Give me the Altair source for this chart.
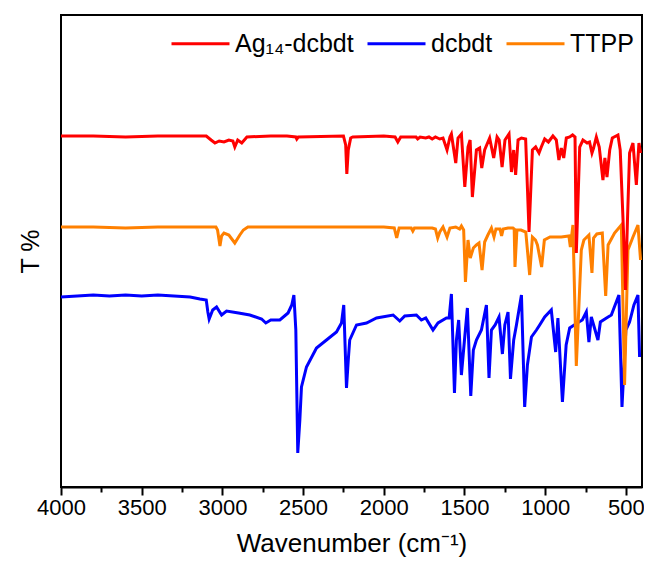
import altair as alt
import pandas as pd

# ---- data (wavenumber in cm-1, transmittance in arbitrary offset units) ----
red_wn = [4000, 3800, 3600, 3400, 3200, 3100, 3070, 3046, 3020, 2990, 2960, 2935, 2923, 2905, 2880, 2848,
          2700, 2600, 2545, 2539, 2530, 2250, 2236, 2229, 2220, 2205, 2192, 2000, 1930, 1913, 1895, 1800,
          1790, 1775, 1740, 1720, 1700, 1680, 1653, 1633, 1608, 1590, 1581, 1554, 1540, 1519, 1498, 1478,
          1465, 1451, 1426, 1406, 1393, 1375, 1344, 1319, 1298, 1285, 1267, 1249, 1224, 1209, 1195, 1183,
          1168, 1147, 1121, 1100, 1079, 1059, 1038, 1024, 1003, 980, 952, 931, 915, 900, 885, 869, 848,
          830, 815, 807, 786, 766, 740, 725, 710, 700, 683, 665, 642, 630, 617, 600, 584, 549, 535, 515,
          502, 490, 477, 456, 435, 419, 409]
red_t = [351, 351, 350, 351, 351, 351, 347, 344, 346, 345, 347, 346, 340, 347, 344, 350,
         351, 351, 350, 348, 350, 351, 342, 313, 337, 349, 350, 351, 350, 345, 350, 350,
         348, 350, 349, 350, 348, 350, 348, 349, 337, 350, 353, 324, 349, 353, 300, 340,
         347, 290, 337, 339, 319, 337, 349, 329, 350, 347, 320, 347, 353, 315, 337, 312,
         347, 349, 348, 255, 337, 340, 334, 340, 348, 345, 351, 347, 327, 339, 329, 349, 350,
         352, 350, 234, 340, 347, 344, 345, 334, 339, 350, 340, 307, 329, 310, 337, 349, 352, 337, 257,
         197, 267, 334, 344, 302, 344, 334]

orange_wn = [4000, 3800, 3600, 3400, 3200, 3040, 3030, 3015, 3005, 2990, 2960, 2923, 2892, 2870, 2842,
             2500, 2000, 1935, 1920, 1905, 1830, 1820, 1810, 1700, 1680, 1666, 1653, 1633, 1608, 1590,
             1554, 1530, 1519, 1505, 1494, 1478, 1464, 1445, 1426, 1410, 1391, 1375, 1355, 1333, 1317,
             1305, 1280, 1270, 1260, 1230, 1200, 1192, 1187, 1175, 1150, 1120, 1096, 1079, 1060, 1048,
             1022, 1005, 970, 900, 853, 844, 828, 807, 776, 760, 729, 710, 700, 680, 646, 625, 610, 570,
             528, 508, 487, 456, 425, 409]
orange_t = [260, 260, 259, 260, 260, 260, 257, 241, 251, 254, 252, 244, 252, 257, 260,
            260, 260, 259, 249, 259, 259, 256, 259, 259, 258, 249, 255, 260, 250, 259,
            260, 258, 261, 257, 205, 247, 229, 239, 242, 244, 217, 245, 252, 259, 250,
            258, 258, 251, 258, 259, 259, 258, 220, 257, 257, 255, 212, 250, 247, 242,
            220, 247, 250, 250, 251, 240, 262, 121, 237, 247, 252, 214, 249, 253, 254, 191, 242, 254,
            262, 102, 237, 250, 262, 227]

blue_wn = [4000, 3900, 3800, 3700, 3600, 3500, 3400, 3300, 3200, 3139, 3100, 3090, 3082, 3060, 3036,
           3005, 2974, 2900, 2830, 2757, 2731, 2700, 2644, 2593, 2570, 2557, 2545, 2533, 2520, 2510,
           2479, 2417, 2355, 2293, 2262, 2248, 2231, 2220, 2211, 2169, 2107, 2045, 1942, 1901, 1870,
           1798, 1767, 1740, 1695, 1664, 1612, 1595, 1581, 1562, 1550, 1536, 1519, 1500, 1482, 1461,
           1445, 1426, 1395, 1364, 1348, 1333, 1310, 1286, 1265, 1250, 1230, 1215, 1195, 1178, 1147,
           1127, 1110, 1085, 1054, 1034, 1003, 962, 935, 921, 893, 870, 848, 791, 770, 745, 729, 714,
           673, 658, 620, 590, 543, 524, 500, 477, 450, 425, 415]
blue_t = [190, 191, 192, 191, 192, 191, 192, 191, 190, 188, 187, 175, 168, 177, 180,
          172, 176, 174, 172, 168, 164, 167, 167, 174, 182, 192, 157, 34, 67, 100,
          120, 139, 147, 155, 164, 182, 99, 127, 147, 162, 164, 169, 172, 166, 171,
          172, 167, 169, 157, 164, 169, 169, 193, 94, 147, 167, 112, 147, 179, 91,
          137, 147, 157, 182, 109, 157, 162, 170, 133, 162, 175, 108, 147, 162, 192,
          80, 122, 150, 157, 162, 170, 177, 135, 169, 85, 142, 159, 165, 167, 175, 145, 170,
          147, 165, 169, 172, 192, 80, 157, 165, 182, 192, 130]

names = ["Ag\u2081\u2084-dcbdt", "dcbdt", "TTPP"]
colors = ["#FF0000", "#0000FF", "#FF8000"]
x_ticks = [4000, 3750, 3500, 3250, 3000, 2750, 2500, 2250, 2000, 1750, 1500, 1250, 1000, 750, 500]

FONT = "Liberation Sans"

color_scale = alt.Scale(domain=names, range=colors)
x_scale = alt.Scale(domain=[4000, 400], nice=False, zero=False)
y_scale = alt.Scale(domain=[0, 472], nice=False, zero=False)

x_axis = alt.Axis(
    title="Wavenumber (cm\u207b\u00b9)",
    values=x_ticks,
    labelExpr="datum.value % 500 === 0 ? datum.label : ''",
    format="d",
    tickSize={"condition": {"test": "datum.value % 500 === 0", "value": 8}, "value": 5},
    tickWidth=2, tickColor="black",
    domainWidth=2, domainColor="black",
    labelFont=FONT, labelFontSize=22, labelColor="black", labelPadding=2,
    labelFlush=False, labelOverlap=False,
    titleFont=FONT, titleFontSize=26, titleFontWeight="normal", titleColor="black",
    titlePadding=12, grid=False,
)
y_axis = alt.Axis(
    title="T %", ticks=False, labels=False, domain=False, grid=False,
    titleFont=FONT, titleFontSize=25, titleFontWeight="normal", titleColor="black",
    titlePadding=18,
)

legend = alt.Legend(
    title=None, orient="none", legendX=109, legendY=-2, direction="horizontal",
    symbolType="stroke", symbolSize=3364, symbolStrokeWidth=3,
    labelFont=FONT, labelFontSize=25, labelColor="black", labelOffset=4,
    columnPadding=7, padding=0, labelLimit=400,
)


def layer(wn, t, name):
    df = pd.DataFrame({"wn": wn, "t": t, "sample": name})
    return alt.Chart(df).mark_line(strokeWidth=3).encode(
        x=alt.X("wn:Q", scale=x_scale, axis=x_axis),
        y=alt.Y("t:Q", scale=y_scale, axis=y_axis),
        color=alt.Color("sample:N", scale=color_scale, legend=legend),
        order=alt.Order("wn:Q"),
    )


chart = alt.layer(
    layer(blue_wn, blue_t, names[1]),
    layer(orange_wn, orange_t, names[2]),
    layer(red_wn, red_t, names[0]),
).properties(
    width=581, height=472,
    padding={"left": 53, "top": 7, "right": 2, "bottom": 70},
    autosize="none",
).configure(
    background="white"
).configure_view(
    stroke="black", strokeWidth=2
)

chart.save("out.html", embed_options={"renderer": "svg", "actions": False})
